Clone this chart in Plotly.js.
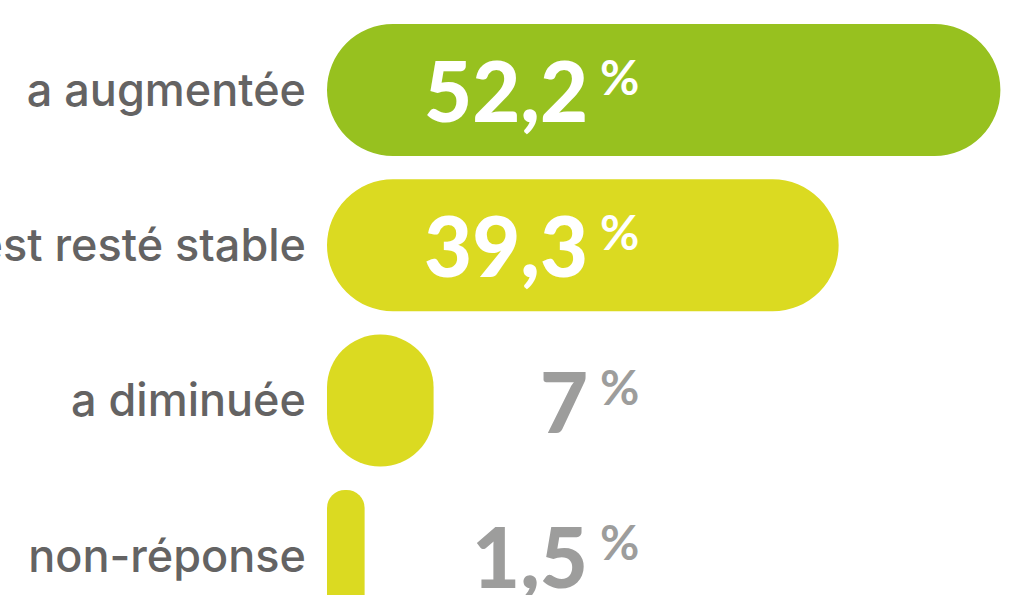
<!DOCTYPE html>
<html><head><meta charset="utf-8">
<script src="https://cdn.plot.ly/plotly-3.0.1.min.js"></script>
<style>html,body{margin:0;padding:0;background:#fff;overflow:hidden}</style>
</head><body><div id="chart" style="width:1016px;height:595px"></div>
<script>
// ---- data ----
const categories = ['a augmentée', 'est resté stable', 'a diminuée', 'non-réponse'];
const values = [52.2, 39.3, 7, 1.5];
const valueLabels = ['52,2', '39,3', '7', '1,5'];
const unitLabel = '%';

// ---- styles ----
const barColors = ['#97c11f', '#dbda21', '#dbda21', '#dbda21'];
const insideTextColor = '#ffffff';
const outsideTextColor = '#9d9d9c';
const labelColor = '#646363';

const W = 1016, H = 595, ML = 327;
const plotW = W - ML;
const baseVal = -1.5;
const pxPerUnit = 12.54;
const xMax = baseVal + plotW / pxPerUnit;
const barWidth = 0.85;
const pitch = 155.3, firstCenter = 90;
const yTop = -firstCenter / pitch, yBot = (H - firstCenter) / pitch;
const thickPx = barWidth * pitch;
const numPx = 590, pctPx = 598;

const traces = [];
categories.forEach((c, i) => {
  const v = values[i];
  const Lpx = (v - baseVal) * pxPerUnit;
  const r = Math.min(thickPx / 2, Lpx / 2);
  traces.push({type: 'bar', orientation: 'h', y: [c], width: barWidth,
    base: [baseVal], x: [v - baseVal],
    marker: {color: barColors[i], cornerradius: r, line: {width: 0}},
    hoverinfo: 'skip', showlegend: false});
});

const annotations = [];
categories.forEach((c, i) => {
  const barEndPx = ML + (values[i] - baseVal) * pxPerUnit;
  const col = barEndPx > pctPx + 40 ? insideTextColor : outsideTextColor;
  annotations.push({xref: 'paper', x: (numPx - ML) / plotW, xanchor: 'right',
    yref: 'y', y: c, yanchor: 'middle', yshift: 0, showarrow: false,
    text: valueLabels[i], font: {family: 'Lato', size: 83, weight: 900, color: col}});
  annotations.push({xref: 'paper', x: (pctPx - ML) / plotW, xanchor: 'left',
    yref: 'y', y: c, yanchor: 'middle', yshift: 14, showarrow: false,
    text: unitLabel, font: {family: 'Lato', size: 48, weight: 700, color: col}});
});

const layout = {
  width: W, height: H,
  margin: {l: ML, r: 0, t: 0, b: 0, pad: 0},
  paper_bgcolor: '#ffffff', plot_bgcolor: '#ffffff',
  barmode: 'overlay', showlegend: false,
  xaxis: {range: [baseVal, xMax], showgrid: false, zeroline: false, showline: false,
    showticklabels: false, ticks: '', fixedrange: true},
  yaxis: {type: 'category', categoryorder: 'array', categoryarray: categories,
    range: [yBot, yTop], showgrid: false, zeroline: false, showline: false, ticks: '',
    ticklabelstandoff: 20, tickfont: {family: 'Inter', size: 45, weight: 500, color: labelColor},
    fixedrange: true},
  annotations: annotations
};

Plotly.newPlot('chart', traces, layout, {displayModeBar: false, staticPlot: true});
</script></body></html>
